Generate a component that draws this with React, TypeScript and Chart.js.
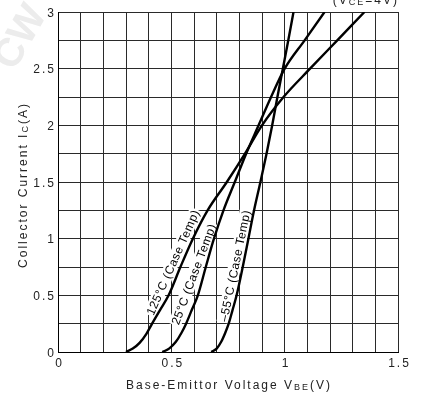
import React, { useEffect, useRef } from "react";
import { Chart, registerables } from "chart.js";

Chart.register(...registerables);

// Base-emitter voltage (V) and collector current (A) for each case temperature
const vbe125 = [0.30, 0.33, 0.36, 0.39, 0.415, 0.45, 0.488, 0.54, 0.595, 0.66, 0.745, 0.825, 0.90, 0.995, 1.112, 1.232, 1.352];
const ic125 = [0, 0.03, 0.08, 0.16, 0.25, 0.37, 0.5, 0.75, 1.0, 1.25, 1.5, 1.75, 2.0, 2.25, 2.5, 2.75, 3.0];

const vbe25 = [0.46, 0.49, 0.52, 0.545, 0.565, 0.59, 0.617, 0.652, 0.688, 0.73, 0.78, 0.83, 0.885, 0.94, 1.0, 1.088, 1.176];
const ic25 = [0, 0.03, 0.09, 0.17, 0.25, 0.37, 0.5, 0.75, 1.0, 1.25, 1.5, 1.75, 2.0, 2.25, 2.5, 2.75, 3.0];

const vbeM55 = [0.676, 0.70, 0.72, 0.738, 0.753, 0.77, 0.788, 0.815, 0.84, 0.865, 0.893, 0.92, 0.945, 0.968, 0.992, 1.016, 1.039];
const icM55 = [0, 0.03, 0.09, 0.17, 0.25, 0.37, 0.5, 0.75, 1.0, 1.25, 1.5, 1.75, 2.0, 2.25, 2.5, 2.75, 3.0];

const xTickLabels = [0, 0.5, 1, 1.5];
const yTickLabels = [0, 0.5, 1, 1.5, 2, 2.5, 3];

const curveLabels = ["125°C (Case Temp)", "25°C (Case Temp)", "–55°C (Case Temp)"];
const labelAnchorX = [0.508, 0.6, 0.782];
const labelAnchorY = [0.79, 0.686, 0.761];
const labelAngleDeg = [-66, -69.4, -78.2];

const toPoints = (xs: number[], ys: number[]) => xs.map((x, i) => ({ x, y: ys[i] }));

type Seg = { t: string; sub?: boolean };

function drawSegs(ctx: CanvasRenderingContext2D, segs: Seg[], x: number, y: number, size: number, spacing: number, align: "left" | "center" | "right") {
  const widths = segs.map((s) => {
    ctx.font = `${s.sub ? Math.round(size * 0.75) : size}px "Liberation Sans", Arial, sans-serif`;
    (ctx as any).letterSpacing = `${spacing}px`;
    return ctx.measureText(s.t).width;
  });
  const total = widths.reduce((a, b) => a + b, 0) - spacing;
  let cx = align === "left" ? x : align === "center" ? x - total / 2 : x - total;
  ctx.textAlign = "left";
  ctx.textBaseline = "alphabetic";
  segs.forEach((s, i) => {
    ctx.font = `${s.sub ? Math.round(size * 0.75) : size}px "Liberation Sans", Arial, sans-serif`;
    (ctx as any).letterSpacing = `${spacing}px`;
    ctx.fillText(s.t, cx, y + (s.sub ? size * 0.12 : 0));
    cx += widths[i];
  });
}

const textPlugin = {
  id: "textPlugin",
  beforeDraw(chart: any) {
    const ctx: CanvasRenderingContext2D = chart.ctx;
    ctx.save();
    ctx.fillStyle = "#fff";
    ctx.fillRect(0, 0, chart.width, chart.height);
    // faint watermark
    ctx.translate(14, 72);
    ctx.rotate((-60 * Math.PI) / 180);
    ctx.font = 'bold 40px "Liberation Sans", Arial, sans-serif';
    ctx.fillStyle = "#ececec";
    ctx.fillText("CW", 0, 0);
    ctx.restore();
  },
  beforeDatasetsDraw(chart: any) {
    const ctx: CanvasRenderingContext2D = chart.ctx;
    const xs = chart.scales.x;
    const ys = chart.scales.y;
    curveLabels.forEach((txt, i) => {
      const px = xs.getPixelForValue(labelAnchorX[i]);
      const py = ys.getPixelForValue(labelAnchorY[i]);
      ctx.save();
      ctx.translate(px, py);
      ctx.rotate((labelAngleDeg[i] * Math.PI) / 180);
      ctx.font = '12px "Liberation Sans", Arial, sans-serif';
      (ctx as any).letterSpacing = "0.5px";
      const w = ctx.measureText(txt).width;
      ctx.fillStyle = "#fff";
      ctx.fillRect(-w / 2 - 1, -7, w + 2, 13);
      ctx.fillStyle = "#000";
      ctx.textAlign = "center";
      ctx.textBaseline = "middle";
      ctx.fillText(txt, 0, 0.5);
      ctx.restore();
    });
  },
  afterDraw(chart: any) {
    const ctx: CanvasRenderingContext2D = chart.ctx;
    const xs = chart.scales.x;
    const ys = chart.scales.y;
    ctx.save();
    ctx.fillStyle = "#222";
    xTickLabels.forEach((v) => {
      drawSegs(ctx, [{ t: String(v) }], xs.getPixelForValue(v) + 0.5, 367, 12, 2, "center");
    });
    yTickLabels.forEach((v) => {
      drawSegs(ctx, [{ t: String(v) }], 54, ys.getPixelForValue(v) + 4.5, 12, 2, "right");
    });
    // x axis title
    drawSegs(
      ctx,
      [{ t: "Base-Emittor Voltage V" }, { t: "BE", sub: true }, { t: "(V)" }],
      (chart.chartArea.left + chart.chartArea.right) / 2,
      389,
      12,
      2,
      "center"
    );
    // y axis title
    ctx.save();
    ctx.translate(27, (chart.chartArea.top + chart.chartArea.bottom) / 2 + 4);
    ctx.rotate(-Math.PI / 2);
    drawSegs(ctx, [{ t: "Collector Current I" }, { t: "C", sub: true }, { t: "(A)" }], 0, 0, 12, 2, "center");
    ctx.restore();
    // condition note (partly cut at top)
    drawSegs(ctx, [{ t: "(V" }, { t: "CE", sub: true }, { t: "=4V)" }], 397, 3.5, 12, 2, "right");
    ctx.restore();
  },
};

export default function App() {
  const ref = useRef<HTMLCanvasElement | null>(null);
  useEffect(() => {
    if (!ref.current) return;
    const ds = (data: { x: number; y: number }[]) => ({
      data,
      borderColor: "#000",
      borderWidth: 2.4,
      pointRadius: 0,
      fill: false,
      cubicInterpolationMode: "monotone" as const,
    });
    const chart = new Chart(ref.current, {
      type: "line",
      data: {
        datasets: [ds(toPoints(vbe125, ic125)), ds(toPoints(vbe25, ic25)), ds(toPoints(vbeM55, icM55))],
      },
      options: {
        responsive: false,
        animation: false,
        events: [],
        layout: { padding: { top: 12, right: 23, left: 0, bottom: 0 } },
        plugins: { legend: { display: false }, tooltip: { enabled: false }, title: { display: false } },
        scales: {
          x: {
            type: "linear",
            min: 0,
            max: 1.5,
            ticks: { stepSize: 0.1, display: false },
            grid: { color: "#2a2a2a", lineWidth: 1, drawTicks: false },
            border: { display: true, color: "#000", width: 1 },
            afterFit: (s: any) => {
              s.height = 41;
            },
          },
          y: {
            type: "linear",
            min: 0,
            max: 3,
            ticks: { stepSize: 0.25, display: false },
            grid: { color: "#2a2a2a", lineWidth: 1, drawTicks: false },
            border: { display: true, color: "#000", width: 1 },
            afterFit: (s: any) => {
              s.width = 58;
            },
          },
        },
      },
      plugins: [textPlugin],
    });
    return () => chart.destroy();
  }, []);
  return (
    <div style={{ position: "absolute", left: 0, top: 0, width: 421, height: 393, background: "#fff" }}>
      <canvas ref={ref} width={421} height={393} style={{ display: "block" }} />
    </div>
  );
}
